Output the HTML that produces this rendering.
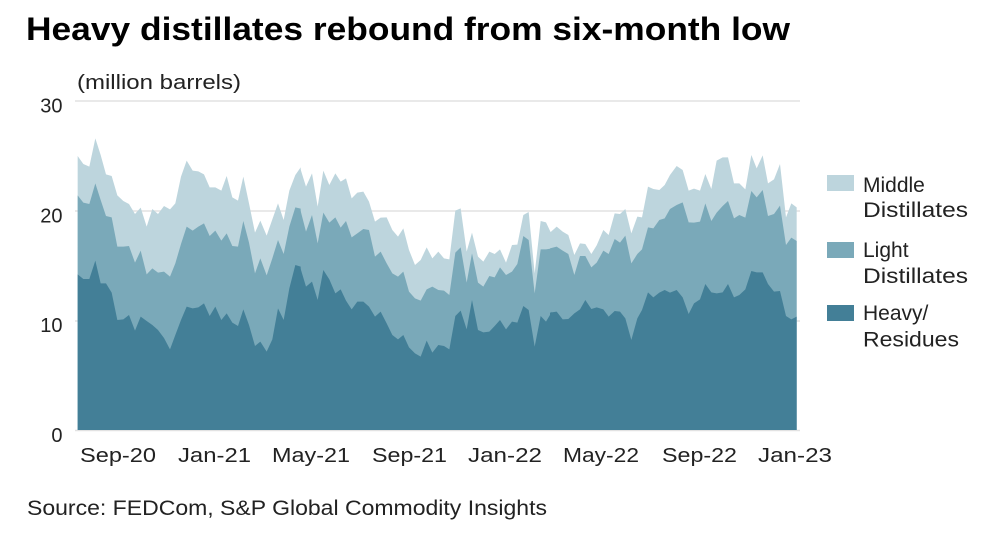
<!DOCTYPE html>
<html><head><meta charset="utf-8"><style>
html,body{margin:0;padding:0;background:#fff;}
svg{display:block;}
text{font-family:"Liberation Sans",sans-serif;fill:#222;}
</style></head><body>
<svg width="1002" height="534" viewBox="0 0 1002 534" xmlns="http://www.w3.org/2000/svg">
<rect width="1002" height="534" fill="#fff"/>
<text x="26" y="40" font-size="32" font-weight="bold" fill="#000" style="fill:#000" textLength="764" lengthAdjust="spacingAndGlyphs">Heavy distillates rebound from six-month low</text>
<text x="77" y="89" font-size="20" textLength="164" lengthAdjust="spacingAndGlyphs">(million barrels)</text>
<g stroke="#e2e2e2" stroke-width="1.5">
<line x1="75" y1="101" x2="800" y2="101"/>
<line x1="75" y1="211" x2="800" y2="211"/>
<line x1="75" y1="321" x2="800" y2="321"/>
<line x1="75" y1="430.5" x2="800" y2="430.5"/>
</g>
<g font-size="20" text-anchor="end">
<text x="62.5" y="112.5">30</text>
<text x="62.5" y="222.5">20</text>
<text x="62.5" y="332">10</text>
<text x="62.5" y="442">0</text>
</g>
<!-- Middle distillates -->
<g fill="#bdd5dd">
<polygon transform="translate(60,90) scale(0.333333)" points="53,198 70,222 88,230 106,145 122,195 138,253 155,258 172,316 190,333 207,342 225,372 242,353 260,410 277,357 294,372 312,348 330,358 346,340 363,260 380,212 398,242 415,244 432,253 449,292 466,292 484,302 500,258 517,322 534,332 550,260 567,340 585,428 601,392 620,437 637,388 654,340 671,390 688,302 706,255 722,232 722,1020 53,1020"/>
<polygon transform="translate(300,90) scale(0.333333)" points="0,232 18,290 36,250 53,350 70,242 88,285 106,250 122,275 138,265 155,325 172,308 190,305 207,335 225,395 242,383 260,382 277,420 294,440 310,415 327,480 345,525 362,510 380,472 397,505 415,485 432,505 448,508 466,362 482,355 500,485 516,428 534,500 550,515 568,485 584,492 600,478 618,518 636,465 652,464 670,375 686,366 704,550 722,393 738,397 756,435 756,1020 0,1020"/>
<polygon transform="translate(550,90) scale(0.333333)" points="0,428 20,410 38,425 55,435 73,495 90,460 106,462 124,492 140,466 160,420 176,435 194,370 210,372 226,357 244,430 262,380 276,382 294,290 310,297 328,300 344,285 360,255 380,228 398,240 416,302 432,296 450,302 466,252 484,297 500,212 518,202 534,202 552,280 568,280 586,298 604,195 620,235 638,196 654,280 672,268 690,222 708,382 724,340 740,352 740,1020 0,1020"/>
</g>
<!-- Light distillates -->
<g fill="#7aa9b9">
<polygon transform="translate(60,90) scale(0.333333)" points="53,316 70,338 88,342 106,280 122,330 138,378 155,382 172,470 190,470 207,468 225,518 242,482 260,553 277,535 294,548 312,545 330,560 346,520 363,462 380,410 398,422 415,410 432,400 449,438 466,422 484,452 500,430 517,468 534,470 550,393 567,458 585,550 601,505 620,556 637,505 654,450 671,492 688,410 706,352 722,356 722,1020 53,1020"/>
<polygon transform="translate(300,90) scale(0.333333)" points="0,355 18,425 36,375 53,460 70,368 88,398 106,382 122,413 138,393 155,442 172,430 190,417 207,420 225,500 242,485 260,520 277,550 294,560 310,545 327,605 345,625 362,632 380,598 397,590 415,600 432,602 448,615 466,488 482,472 500,578 516,490 534,578 550,590 568,558 584,562 600,532 618,555 636,545 652,522 670,438 686,450 704,610 722,478 738,478 756,475 756,1020 0,1020"/>
<polygon transform="translate(550,90) scale(0.333333)" points="0,475 20,470 38,482 55,492 73,555 90,498 106,498 124,532 140,518 160,482 176,492 194,447 210,458 226,437 244,520 262,492 276,478 294,412 310,415 328,390 344,385 360,357 380,345 398,337 416,397 432,398 450,395 466,340 484,393 500,368 518,348 534,333 552,385 568,375 586,383 604,303 620,322 638,300 654,378 672,372 690,347 708,465 724,443 740,453 740,1020 0,1020"/>
</g>
<!-- Heavy / Residues -->
<g fill="#437f97">
<polygon transform="translate(60,90) scale(0.333333)" points="53,553 70,567 88,567 106,512 122,580 138,580 155,608 172,690 190,688 207,675 225,722 242,680 260,693 277,705 294,720 312,744 330,778 346,735 363,690 380,650 398,655 415,652 432,640 449,678 466,650 484,690 500,670 517,698 534,708 550,658 567,705 585,768 601,755 620,785 637,748 654,655 671,690 688,595 706,525 722,530 722,1020 53,1020"/>
<polygon transform="translate(300,90) scale(0.333333)" points="0,530 18,590 36,575 53,630 70,540 88,568 106,610 122,598 138,632 155,658 172,635 190,635 207,650 225,680 242,665 260,700 277,735 294,748 310,735 327,772 345,790 362,800 380,752 397,788 415,765 432,768 448,778 466,678 482,662 500,718 516,630 534,720 550,727 568,725 584,708 600,690 618,718 636,695 652,698 670,648 686,660 704,770 722,678 738,695 756,665 756,1020 0,1020"/>
<polygon transform="translate(550,90) scale(0.333333)" points="0,668 20,665 38,688 55,687 73,670 90,658 106,630 124,657 140,652 160,658 176,680 194,663 210,665 226,685 244,750 262,685 276,660 294,607 310,622 328,608 344,600 360,608 380,600 398,622 416,672 432,640 450,628 466,582 484,607 500,610 518,607 534,582 552,622 568,615 586,598 604,543 620,547 638,547 654,582 672,605 690,603 708,678 724,688 740,680 740,1020 0,1020"/>
</g>
<g font-size="20.5">
<text x="80" y="462" textLength="76" lengthAdjust="spacingAndGlyphs">Sep-20</text>
<text x="178" y="462" textLength="73" lengthAdjust="spacingAndGlyphs">Jan-21</text>
<text x="272" y="462" textLength="78" lengthAdjust="spacingAndGlyphs">May-21</text>
<text x="372" y="462" textLength="75" lengthAdjust="spacingAndGlyphs">Sep-21</text>
<text x="468" y="462" textLength="74" lengthAdjust="spacingAndGlyphs">Jan-22</text>
<text x="563" y="462" textLength="76" lengthAdjust="spacingAndGlyphs">May-22</text>
<text x="662" y="462" textLength="75" lengthAdjust="spacingAndGlyphs">Sep-22</text>
<text x="758" y="462" textLength="74" lengthAdjust="spacingAndGlyphs">Jan-23</text>
</g>
<rect x="827" y="175" width="27" height="16" fill="#bdd5dd"/>
<rect x="827" y="242" width="27" height="16" fill="#7aa9b9"/>
<rect x="827" y="305" width="27" height="16" fill="#437f97"/>
<g font-size="21">
<text x="863" y="192">Middle</text>
<text x="863" y="217" textLength="105" lengthAdjust="spacingAndGlyphs">Distillates</text>
<text x="863" y="257">Light</text>
<text x="863" y="283" textLength="105" lengthAdjust="spacingAndGlyphs">Distillates</text>
<text x="863" y="320">Heavy/</text>
<text x="863" y="346.5" textLength="96" lengthAdjust="spacingAndGlyphs">Residues</text>
</g>
<text x="27" y="515" font-size="21" textLength="520" lengthAdjust="spacingAndGlyphs">Source: FEDCom, S&amp;P Global Commodity Insights</text>
</svg>
</body></html>
